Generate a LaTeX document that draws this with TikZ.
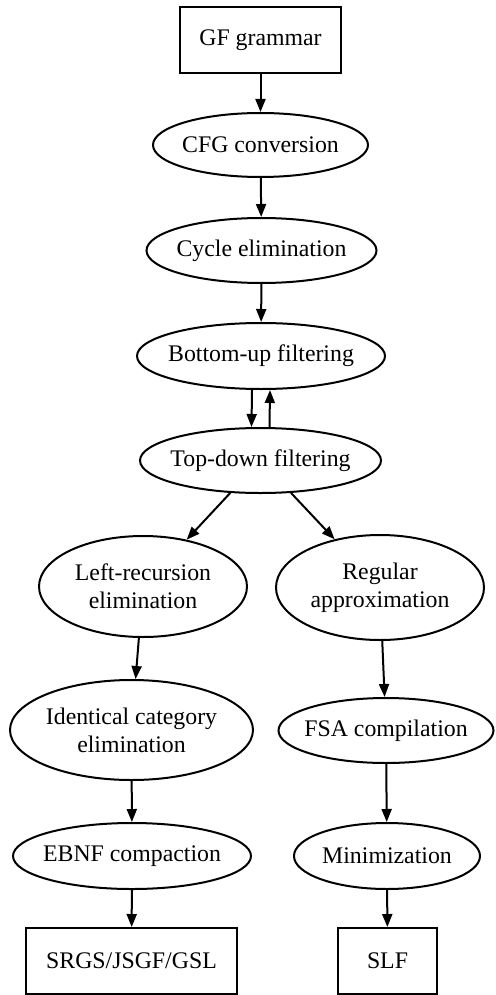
\documentclass[tikz,border=0pt]{standalone}
\usepackage{fontspec}
\setmainfont{Liberation Serif}
\usetikzlibrary{shapes.geometric,arrows.meta}
\begin{document}
\begin{tikzpicture}[x=1pt,y=-1pt,
  every node/.style={font=\fontsize{23.8}{28}\selectfont},
  shape ell/.style={draw, ellipse, line width=2pt, inner sep=0pt},
  shape box/.style={draw, rectangle, line width=2pt, inner sep=0pt, minimum height=66pt},
  txt/.style={align=center, inner sep=0pt},
  conn/.style={-{Triangle[length=13pt,width=10pt]}, line width=2pt}]
\useasboundingbox (0,0) rectangle (495,995);
% nodes
\node[shape box, minimum width=161pt] (gf) at (260.5,40) {GF grammar};
\node[shape ell, minimum width=215pt, minimum height=64pt] (cfg) at (260.5,145) {};
\node[txt] (cfgt) at (cfg) {CFG conversion};
\node[shape ell, minimum width=230pt, minimum height=65pt] (cyc) at (261.5,250.5) {};
\node[txt] (cyct) at (cyc) {Cycle elimination};
\node[shape ell, minimum width=248pt, minimum height=66pt] (bu) at (261,356) {};
\node[txt] (but) at (bu) {Bottom-up filtering};
\node[shape ell, minimum width=241pt, minimum height=65pt] (td) at (260.5,460.5) {};
\node[txt] (tdt) at (td) {Top-down filtering};
\node[shape ell, minimum width=208pt, minimum height=101pt] (lr) at (143,586.5) {};
\node[txt] (lrt) at (lr) {Left-recursion\\elimination};
\node[shape ell, minimum width=208pt, minimum height=105pt] (ra) at (380,587.5) {};
\node[txt] (rat) at (ra) {Regular\\approximation};
\node[shape ell, minimum width=243pt, minimum height=100pt] (ic) at (131.5,730) {};
\node[txt] (ict) at (ic) {Identical category\\elimination};
\node[shape ell, minimum width=215pt, minimum height=65pt] (fsa) at (386,730.5) {};
\node[txt] (fsat) at (fsa) {FSA compilation};
\node[shape ell, minimum width=238pt, minimum height=66pt] (ebnf) at (132,856) {};
\node[txt] (ebnft) at (ebnf) {EBNF compaction};
\node[shape ell, minimum width=186pt, minimum height=66pt] (mini) at (387,856) {};
\node[txt] (minit) at (mini) {Minimization};
\node[shape box, minimum width=211pt] (srgs) at (131.5,961) {SRGS/JSGF/GSL};
\node[shape box, minimum width=99pt] (slf) at (387.5,961) {SLF};
% connectors
\draw[conn] (gf) -- (cfg);
\draw[conn] (cfg) -- (cyc);
\draw[conn] (cyc) -- (bu);
\draw[conn] ([xshift=-9pt]bu.south) -- ([xshift=-9pt]td.north);
\draw[conn] ([xshift=9pt]td.north) -- ([xshift=9pt]bu.south);
\draw[conn] (td) -- (lr);
\draw[conn] (td) -- (ra);
\draw[conn] (lr) -- (ic);
\draw[conn] (ra) -- (fsa);
\draw[conn] (ic) -- (ebnf);
\draw[conn] (fsa) -- (mini);
\draw[conn] (ebnf) -- (srgs);
\draw[conn] (mini) -- (slf);
\end{tikzpicture}
\end{document}
